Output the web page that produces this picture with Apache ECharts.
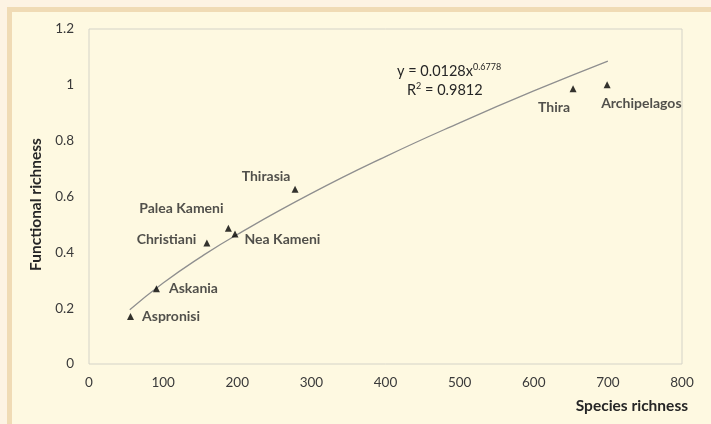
<!DOCTYPE html>
<html>
<head>
<meta charset="utf-8">
<script src="https://cdn.jsdelivr.net/npm/echarts@6/dist/echarts.min.js"></script>
<style>
html,body{margin:0;padding:0;background:#fdf3e3;}
#chart{width:711px;height:424px;}
</style>
</head>
<body>
<div id="chart"></div>
<script>
// Data
var siteNames = ['Aspronisi', 'Askania', 'Christiani', 'Palea Kameni', 'Nea Kameni', 'Thirasia', 'Thira', 'Archipelagos'];
var speciesRichness = [56, 91, 159, 188, 197, 278, 653, 699];
var functionalRichness = [0.17, 0.27, 0.433, 0.486, 0.466, 0.626, 0.986, 1.0];
// Power trendline
var trendX = [55, 100, 150, 200, 300, 400, 500, 600, 700];
var trendY = [0.194, 0.290, 0.382, 0.464, 0.611, 0.743, 0.864, 0.978, 1.085];
var xTicks = [0, 100, 200, 300, 400, 500, 600, 700, 800];
var yTicks = [0, 0.2, 0.4, 0.6, 0.8, 1, 1.2];

// Label placement (style only)
var labelStyle = {
  'Aspronisi':    {position: 'right', distance: 8},
  'Askania':      {position: 'right', distance: 9},
  'Christiani':   {position: 'left', distance: 7, offset: [0, -4]},
  'Palea Kameni': {position: 'inside', offset: [-47, -20]},
  'Nea Kameni':   {position: 'right', distance: 6, offset: [0, 6]},
  'Thirasia':     {position: 'inside', offset: [-29, -13]},
  'Thira':        {position: 'inside', offset: [-19, 19]},
  'Archipelagos': {position: 'inside', align: 'left', offset: [-6, 19]}
};

var FONT = 'Lato, "Open Sans", sans-serif';

var scatterData = siteNames.map(function (n, i) {
  var ls = labelStyle[n];
  var lab = {show: true, formatter: n, position: ls.position};
  if (ls.distance != null) lab.distance = ls.distance;
  if (ls.offset) lab.offset = ls.offset;
  if (ls.align) lab.align = ls.align;
  return {name: n, value: [speciesRichness[i], functionalRichness[i]], label: lab};
});

var chart = echarts.init(document.getElementById('chart'), null, {renderer: 'canvas'});
chart.setOption({
  backgroundColor: '#fdf3e3',
  animation: false,
  textStyle: {fontFamily: FONT},
  graphic: [
    {type: 'rect', z: -10, silent: true, shape: {x: 7, y: 7, width: 720, height: 430},
     style: {fill: '#f0dbb5'}},
    {type: 'rect', z: -9, silent: true, shape: {x: 12, y: 12, width: 720, height: 430},
     style: {fill: '#fef9e1'}},
    {type: 'text', z: 10, left: 397, top: 63,
     style: {text: '{a|y = 0.0128x}{s|0.6778}', rich: {
       a: {fontFamily: FONT, fontSize: 14.5, fill: '#262626', verticalAlign: 'bottom'},
       s: {fontFamily: FONT, fontSize: 9, fill: '#262626', padding: [0, 0, 7, 0]}
     }}},
    {type: 'text', z: 10, left: 407, top: 82,
     style: {text: '{a|R}{s|2}{a| = 0.9812}', rich: {
       a: {fontFamily: FONT, fontSize: 14.5, fill: '#262626'},
       s: {fontFamily: FONT, fontSize: 9, fill: '#262626', padding: [0, 0, 7, 0]}
     }}}
  ],
  grid: {left: 89, right: 29, top: 29, bottom: 60, show: true,
         borderColor: '#d4d3c8', borderWidth: 1, backgroundColor: 'transparent'},
  xAxis: {
    type: 'value', min: xTicks[0], max: xTicks[xTicks.length - 1], interval: 100,
    name: 'Species richness', nameLocation: 'end', nameGap: 0,
    nameTextStyle: {fontFamily: FONT, fontSize: 15.5, fontWeight: 'bold', color: '#262626',
                    align: 'right', verticalAlign: 'top', padding: [34, -6, 0, 0]},
    axisLine: {show: false}, axisTick: {show: false}, splitLine: {show: false},
    axisLabel: {fontFamily: FONT, fontSize: 13.5, color: '#3a3a3a', margin: 12}
  },
  yAxis: {
    type: 'value', min: yTicks[0], max: yTicks[yTicks.length - 1], interval: 0.2,
    name: 'Functional richness', nameLocation: 'middle', nameGap: 45, nameRotate: 90,
    nameTextStyle: {fontFamily: FONT, fontSize: 15.5, fontWeight: 'bold', color: '#262626',
                    padding: [0, 0, 0, -16]},
    axisLine: {show: false}, axisTick: {show: false}, splitLine: {show: false},
    axisLabel: {fontFamily: FONT, fontSize: 13.5, color: '#3a3a3a', margin: 15,
                formatter: function (v) { return String(Math.round(v * 10) / 10); }}
  },
  series: [
    {
      type: 'line', data: trendX.map(function (x, i) { return [x, trendY[i]]; }),
      smooth: true, showSymbol: false, silent: true, z: 1,
      lineStyle: {color: '#8f8f8f', width: 1.3}
    },
    {
      type: 'scatter', data: scatterData, symbol: 'triangle', symbolSize: 7, z: 3,
      itemStyle: {color: '#000000'},
      label: {fontFamily: FONT, fontSize: 14, fontWeight: 'bold', color: '#262626'}
    }
  ]
});
</script>
</body>
</html>
